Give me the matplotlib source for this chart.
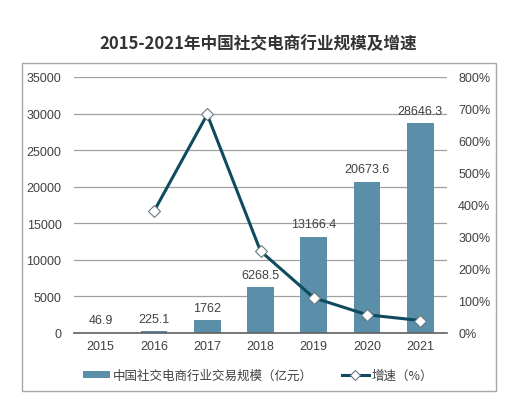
import matplotlib
matplotlib.use("Agg")
import matplotlib.pyplot as plt
from matplotlib.patches import Rectangle
from matplotlib.lines import Line2D
from matplotlib.patches import Patch

plt.rcParams['font.family'] = ['Liberation Sans', 'Noto Sans CJK SC', 'DejaVu Sans']

years = ['2015', '2016', '2017', '2018', '2019', '2020', '2021']
scale = [46.9, 225.1, 1762, 6268.5, 13166.4, 20673.6, 28646.3]
growth_years = ['2016', '2017', '2018', '2019', '2020', '2021']
growth = [380, 683, 256, 110, 57, 39]
left_ticks = [0, 5000, 10000, 15000, 20000, 25000, 30000, 35000]
right_ticks = [0, 100, 200, 300, 400, 500, 600, 700, 800]
title = '2015-2021年中国社交电商行业规模及增速'
bar_label = '中国社交电商行业交易规模（亿元）'
line_label = '增速（%）'

bar_color = '#5b8ea8'
line_color = '#0f4a5f'
text_color = '#404040'

fig = plt.figure(figsize=(5.25, 4.02), dpi=100)
fig.patch.set_facecolor('white')
fig.add_artist(Rectangle((22/525, 1-392/402), 474/525, 328/402, transform=fig.transFigure,
                         fill=False, edgecolor='#a8a8a8', linewidth=1.0))
fig.text(258/525, 1-44/402, title, ha='center', va='center', fontsize=12,
         fontweight='bold', color='#333333', family=['Noto Sans CJK SC', 'DejaVu Sans'])

ax = fig.add_axes([74/525, 1-334/402, 373/525, 256/402])
x = list(range(len(years)))
ax.bar(x, scale, width=0.5, color=bar_color, zorder=2)
ax.set_xlim(-0.5, len(years)-0.5)
ax.set_ylim(0, 35000)
ax.set_yticks(left_ticks)
ax.set_yticklabels([str(t) for t in left_ticks])
ax.set_xticks(x)
ax.set_xticklabels(years)
ax.yaxis.grid(True, color='#a0a0a0', linewidth=0.9)
ax.set_axisbelow(True)
for s in ['left', 'right', 'top']:
    ax.spines[s].set_visible(False)
ax.spines['bottom'].set_color('#606060')
ax.spines['bottom'].set_linewidth(1.2)
ax.tick_params(axis='y', length=0, pad=9, labelsize=9, labelcolor=text_color)
ax.tick_params(axis='x', length=0, pad=5, labelsize=9, labelcolor=text_color)
for xi, v in zip(x, scale):
    lbl = ('%g' % v)
    ax.text(xi, v + 900, lbl, ha='center', va='bottom', fontsize=9, color=text_color)

ax2 = ax.twinx()
ax2.set_ylim(0, 800)
ax2.set_yticks(right_ticks)
ax2.set_yticklabels(['%d%%' % t for t in right_ticks])
for s in ['left', 'right', 'top', 'bottom']:
    ax2.spines[s].set_visible(False)
ax2.tick_params(axis='y', length=0, pad=8, labelsize=9, labelcolor=text_color)
gx = [years.index(y) for y in growth_years]
ax2.plot(gx, growth, color=line_color, linewidth=2.2, marker='D', markersize=6.5,
         markerfacecolor='white', markeredgecolor='#6a7a80', markeredgewidth=0.8, zorder=3)

handles = [Patch(facecolor=bar_color, edgecolor='none'),
           Line2D([0], [0], color=line_color, linewidth=2.2, marker='D', markersize=5,
                  markerfacecolor='white', markeredgecolor='#6a7a80', markeredgewidth=0.8)]
leg = fig.legend(handles, [bar_label, line_label], loc='center', bbox_to_anchor=(258/525, 1-376/402),
                 ncol=2, frameon=False, handlelength=2.2, handleheight=0.5,
                 columnspacing=2.3, handletextpad=0.2,
                 prop={'family': ['Noto Sans CJK SC', 'DejaVu Sans'], 'size': 9})
for t in leg.get_texts():
    t.set_color(text_color)

fig.savefig('out.png', dpi=100, facecolor='white')
